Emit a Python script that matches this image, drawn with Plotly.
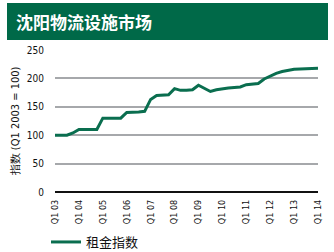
import plotly.graph_objects as go

years = [f"{y:02d}" for y in range(3, 15)]
quarters = []
for y in range(3, 14):
    for q in range(1, 5):
        quarters.append(f"Q{q} {y:02d}")
quarters.append("Q1 14")

rent_index = [100, 100, 100, 104, 110, 110, 110, 110, 130, 130, 130, 130,
              140, 140, 141, 142, 163, 170, 170, 171, 182, 179, 179, 180,
              188, 183, 177, 180, 182, 183, 184, 185, 189, 190, 191, 199,
              204, 209, 212, 214, 216, 216.5, 217, 217.5, 218]

tick_labels = [f"Q1 {y}" for y in years]

title_text = "沈阳物流设施市场"
y_title = "指数 (Q1 2003 = 100)"
series_name = "租金指数"

green = "#0a6e4f"
banner = "#006948"
narrow = "DejaVu Sans Condensed, Liberation Sans Narrow, sans-serif"

fig = go.Figure()
fig.add_trace(go.Scatter(x=quarters, y=rent_index, mode="lines", name=series_name,
                         line=dict(color=green, width=3)))

W, H = 334, 252
L, R, T, B = 55, 16, 50, 60
pw, ph = W - L - R, H - T - B

def px(x):
    return (x - L) / pw

def py(y):
    return (H - B - y) / ph

fig.add_shape(type="rect", xref="paper", yref="paper",
              x0=px(7), x1=px(328), y0=py(40), y1=py(3),
              fillcolor=banner, line=dict(width=0), layer="below")
fig.add_annotation(text=f"<b>{title_text}</b>", xref="paper", yref="paper",
                   x=px(14), y=py(21.5), xanchor="left", yanchor="middle",
                   showarrow=False, font=dict(size=17, color="white",
                   family="Noto Sans CJK SC, sans-serif"))

fig.update_layout(
    width=W, height=H,
    margin=dict(l=L, r=R, t=T, b=B, autoexpand=False),
    paper_bgcolor="white", plot_bgcolor="white",
    showlegend=True,
    legend=dict(orientation="h", x=px(46), y=py(242), xanchor="left", yanchor="middle",
                font=dict(size=13, color="#111", family="Noto Sans CJK SC, sans-serif"),
                bgcolor="rgba(0,0,0,0)"),
    font=dict(family=narrow, color="#111"),
)
fig.update_xaxes(type="category", categoryorder="array", categoryarray=quarters,
                 tickvals=tick_labels, ticktext=tick_labels, tickangle=-90,
                 range=[0, len(quarters) - 1], showgrid=False, ticks="",
                 showline=False, zeroline=False, ticklabelstandoff=5,
                 tickfont=dict(size=9, family=narrow, color="#111"))
fig.update_yaxes(range=[0, 250], dtick=50, showgrid=True, gridcolor="#a6a8ab",
                 gridwidth=1.5, zeroline=True, zerolinecolor="#111", zerolinewidth=1.5,
                 ticks="", ticklabelstandoff=10,
                 tickfont=dict(size=10, family=narrow, color="#111"),
                 title=dict(text=y_title, standoff=4,
                            font=dict(size=11, family=narrow, color="#111")))

fig.write_html("out.html")
